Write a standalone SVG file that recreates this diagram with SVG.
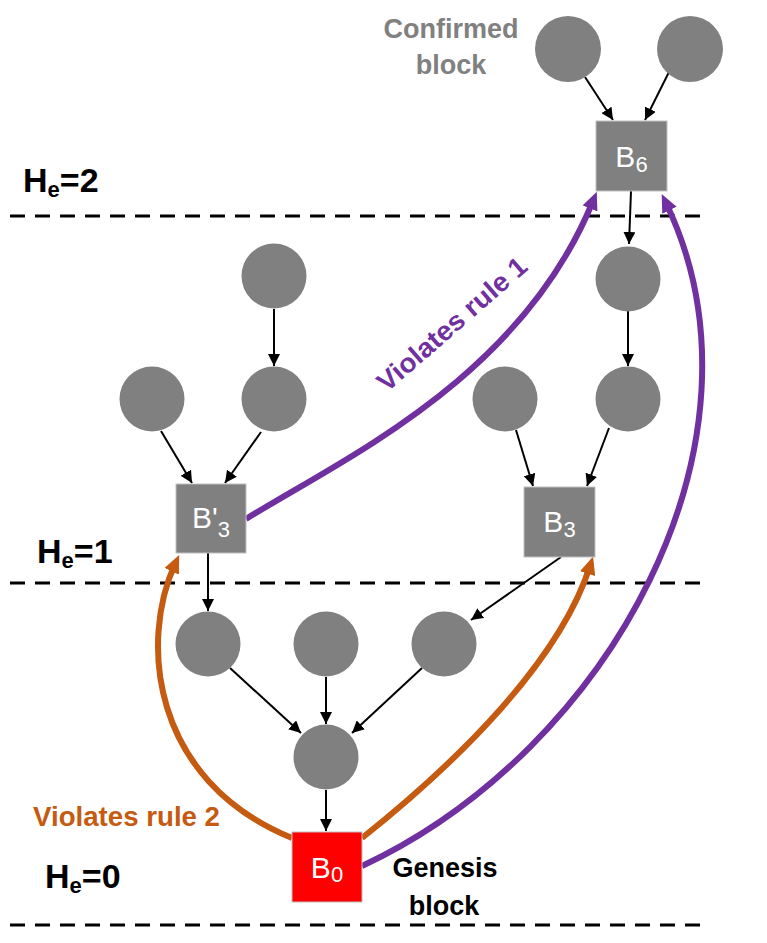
<svg xmlns="http://www.w3.org/2000/svg" width="767" height="943" viewBox="0 0 767 943">
<style>
.dash{stroke:#000;stroke-width:3;stroke-dasharray:15 10;fill:none}
.blk{fill:#808080}
.box{fill:#808080;stroke:#c0c0c0;stroke-width:1}
.gen{fill:#ff0000;stroke:#c0c0c0;stroke-width:1}
.edge{stroke:#000;stroke-width:2;fill:none;marker-end:url(#ah)}
.pur{stroke:#7030a0;stroke-width:6;fill:none;marker-end:url(#ap)}
.org{stroke:#c55a11;stroke-width:6;fill:none;marker-end:url(#ao)}
.lbl{font-family:"Liberation Sans",Arial,sans-serif;fill:#fff;font-size:30px}
.sub{font-size:22px}
.he{font-family:"Liberation Sans",Arial,sans-serif;font-weight:bold;font-size:34px;fill:#000}
.hes{font-size:22px}
.note{font-family:"Liberation Sans",Arial,sans-serif;font-weight:bold;font-size:27px}
</style>
<defs>
<marker id="ah" viewBox="0 0 12 12" refX="12" refY="6" markerWidth="12" markerHeight="12" markerUnits="userSpaceOnUse" orient="auto"><path d="M0,0 L12,6 L0,12 z" fill="#000"/></marker>
<marker id="ap" viewBox="0 0 18 16" refX="8" refY="8" markerWidth="18" markerHeight="16" markerUnits="userSpaceOnUse" orient="auto"><path d="M0,0 L18,8 L0,16 z" fill="#7030a0"/></marker>
<marker id="ao" viewBox="0 0 18 16" refX="8" refY="8" markerWidth="18" markerHeight="16" markerUnits="userSpaceOnUse" orient="auto"><path d="M0,0 L18,8 L0,16 z" fill="#c55a11"/></marker>
</defs>
<rect width="767" height="943" fill="#fff"/>
<g id="levels">
<line class="dash" x1="10" y1="216" x2="706" y2="216"/>
<line class="dash" x1="10" y1="583" x2="706" y2="583"/>
<line class="dash" x1="10" y1="925" x2="706" y2="925"/>
<text class="he" x="23" y="192">H<tspan class="hes" dy="4.5">e</tspan><tspan dy="-4.5">=2</tspan></text>
<text class="he" x="37" y="563">H<tspan class="hes" dy="4.5">e</tspan><tspan dy="-4.5">=1</tspan></text>
<text class="he" x="45" y="888">H<tspan class="hes" dy="4.5">e</tspan><tspan dy="-4.5">=0</tspan></text>
</g>
<g id="connectors">
<line class="edge" x1="585" y1="77" x2="613" y2="120"/>
<line class="edge" x1="669" y1="72" x2="645" y2="120"/>
<line class="edge" x1="631" y1="191" x2="629" y2="244"/>
<line class="edge" x1="628" y1="311" x2="628" y2="366"/>
<line class="edge" x1="516" y1="430" x2="533" y2="486"/>
<line class="edge" x1="609" y1="428" x2="587" y2="486"/>
<line class="edge" x1="274" y1="309" x2="274" y2="366"/>
<line class="edge" x1="161" y1="431" x2="192" y2="483"/>
<line class="edge" x1="261" y1="432" x2="225" y2="483"/>
<line class="edge" x1="208" y1="553" x2="208" y2="611"/>
<line class="edge" x1="561" y1="557" x2="471" y2="620"/>
<line class="edge" x1="230" y1="668" x2="301" y2="733"/>
<line class="edge" x1="326" y1="677" x2="326" y2="724"/>
<line class="edge" x1="422" y1="668" x2="352" y2="733"/>
<line class="edge" x1="326" y1="790" x2="326" y2="831"/>
<path class="pur" d="M246 519 C340 460 520 380 593 201"/>
<path class="pur" d="M362 866 C610 750 780 440 666 203"/>
<path class="org" d="M292 838 C150 780 140 640 175 564"/>
<path class="org" d="M362 838 C460 760 560 660 590 566"/>
<text class="note" fill="#7030a0" text-anchor="middle" transform="translate(458 331) rotate(-41)" textLength="189" lengthAdjust="spacingAndGlyphs">Violates rule 1</text>
<text class="note" fill="#c55a11" x="33" y="826" textLength="187" lengthAdjust="spacingAndGlyphs">Violates rule 2</text>
</g>
<g id="c1"><circle class="blk" cx="568" cy="49" r="33"/></g>
<g id="c2"><circle class="blk" cx="690" cy="49" r="33"/></g>
<g id="B6"><rect class="box" x="596" y="121" width="71" height="70"/><text class="lbl" x="631.5" y="167" text-anchor="middle">B<tspan class="sub" dy="5">6</tspan></text></g>
<g id="c3"><circle class="blk" cx="628" cy="279" r="32.5"/></g>
<g id="c4"><circle class="blk" cx="505" cy="399" r="32.5"/></g>
<g id="c5"><circle class="blk" cx="628" cy="399" r="32.5"/></g>
<g id="c6"><circle class="blk" cx="274" cy="276" r="32.5"/></g>
<g id="c7"><circle class="blk" cx="152" cy="399" r="32.5"/></g>
<g id="c8"><circle class="blk" cx="274" cy="399" r="32.5"/></g>
<g id="Bp3"><rect class="box" x="176" y="484" width="70" height="69"/><text class="lbl" x="211" y="528" text-anchor="middle">B'<tspan class="sub" dy="9">3</tspan></text></g>
<g id="B3"><rect class="box" x="524" y="487" width="71" height="70"/><text class="lbl" x="559.5" y="532" text-anchor="middle">B<tspan class="sub" dy="5">3</tspan></text></g>
<g id="c9"><circle class="blk" cx="208" cy="644" r="32.5"/></g>
<g id="c10"><circle class="blk" cx="326" cy="644" r="32.5"/></g>
<g id="c11"><circle class="blk" cx="444" cy="644" r="32.5"/></g>
<g id="c12"><circle class="blk" cx="326" cy="757" r="32.5"/></g>
<g id="B0"><rect class="gen" x="292" y="832" width="70" height="70"/><text class="lbl" x="327" y="878" text-anchor="middle">B<tspan class="sub" dy="4">0</tspan></text></g>
<g id="labels">
<text class="note" fill="#808080" x="451" y="38" text-anchor="middle">Confirmed</text>
<text class="note" fill="#808080" x="451" y="74" text-anchor="middle">block</text>
<text class="note" fill="#000" x="445" y="877" text-anchor="middle">Genesis</text>
<text class="note" fill="#000" x="444" y="915" text-anchor="middle">block</text>
</g>
</svg>
